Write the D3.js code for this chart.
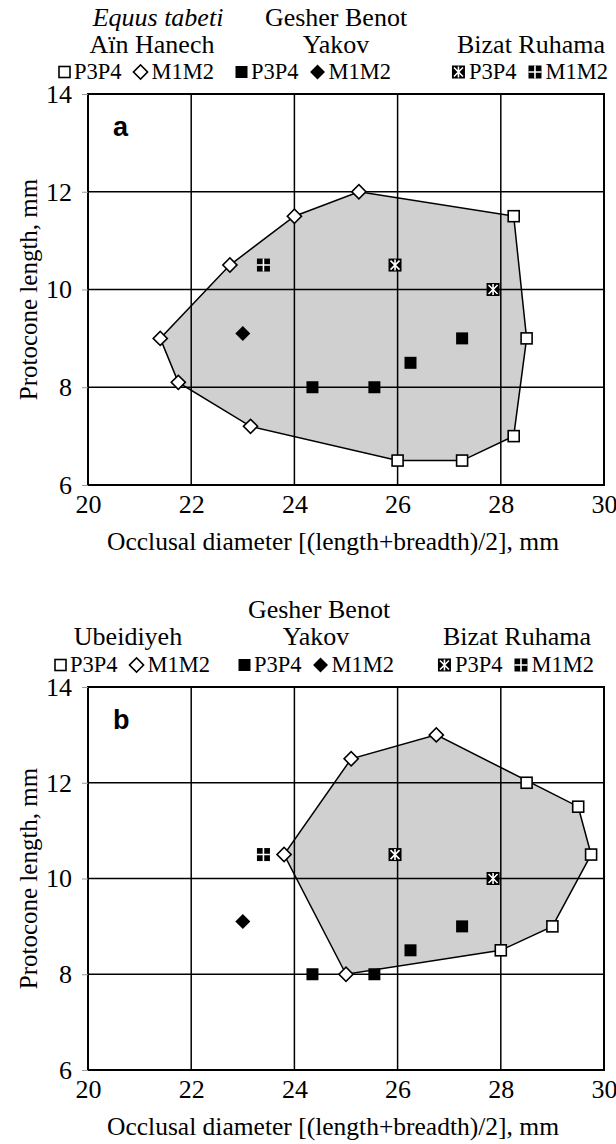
<!DOCTYPE html>
<html><head><meta charset="utf-8">
<script src="https://cdn.jsdelivr.net/npm/d3@7"></script>
<style>body{margin:0;background:#fff}</style>
</head><body>
<svg id="c" width="616" height="1144"></svg>
<script>
// ---------- data ----------
const xTicks = [20, 22, 24, 26, 28, 30];
const yTicks = [6, 8, 10, 12, 14];

// Panel a: Equus tabeti, Aïn Hanech  [occlusal diameter, protocone length]
const ainHanechP3P4 = [[28.25, 11.5], [28.5, 9], [28.25, 7], [27.25, 6.5], [26, 6.5]];
const ainHanechM1M2 = [[25.25, 12], [24, 11.5], [22.75, 10.5], [21.4, 9], [21.75, 8.1], [23.15, 7.2]];

// Panel b: Ubeidiyeh
const ubeidiyehP3P4 = [[28.5, 12], [29.5, 11.5], [29.75, 10.5], [29, 9], [28, 8.5]];
const ubeidiyehM1M2 = [[23.8, 10.5], [25.1, 12.5], [26.75, 13], [25, 8]];

// Gesher Benot Yakov (both panels)
const gbyP3P4 = [[24.35, 8], [25.55, 8], [26.25, 8.5], [27.25, 9]];
const gbyM1M2 = [[23, 9.1]];

// Bizat Ruhama (both panels)
const brP3P4 = [[25.95, 10.5], [27.85, 10]];
const brM1M2 = [[23.4, 10.5]];

const seriesLabels = ["P3P4", "M1M2"];

// ---------- drawing ----------
const serif = "'Liberation Serif','Times New Roman',serif";
const svg = d3.select('#c');

function marker(g, type, x, y) {
  const m = g.append('g').attr('transform', `translate(${x},${y})`);
  if (type === 'openSquare') {
    m.append('rect').attr('x', -5.5).attr('y', -5.5).attr('width', 11).attr('height', 11)
      .attr('fill', '#fff').attr('stroke', '#000').attr('stroke-width', 1.6);
  } else if (type === 'openDiamond') {
    m.append('rect').attr('x', -5).attr('y', -5).attr('width', 10).attr('height', 10)
      .attr('transform', 'rotate(45)')
      .attr('fill', '#fff').attr('stroke', '#000').attr('stroke-width', 1.6);
  } else if (type === 'filledSquare') {
    m.append('rect').attr('x', -6).attr('y', -6).attr('width', 12).attr('height', 12).attr('fill', '#000');
  } else if (type === 'filledDiamond') {
    m.append('rect').attr('x', -5.3).attr('y', -5.3).attr('width', 10.6).attr('height', 10.6)
      .attr('transform', 'rotate(45)').attr('fill', '#000');
  } else if (type === 'brStar') {
    m.append('rect').attr('x', -6.5).attr('y', -6.5).attr('width', 13).attr('height', 13).attr('fill', '#000');
    const p = 'M-4.5,-4.5L4.5,4.5M4.5,-4.5L-4.5,4.5M0,-5.5L0,5.5';
    m.append('path').attr('d', p).attr('stroke', '#fff').attr('stroke-width', 1.6);
  } else if (type === 'brCross') {
    m.append('rect').attr('x', -6.5).attr('y', -6.5).attr('width', 13).attr('height', 13).attr('fill', '#000');
    m.append('path').attr('d', 'M0,-6.5L0,6.5M-6.5,0L6.5,0').attr('stroke', '#fff').attr('stroke-width', 1.6);
  }
}

function symW(tp) { return tp.startsWith('br') ? 13 : (tp.endsWith('Diamond') ? 14 : 11); }

function panel(cfg) {
  const left = 88, right = 604;
  const x = d3.scaleLinear().domain([20, 30]).range([left, right]);
  const y = d3.scaleLinear().domain([6, 14]).range([cfg.bottom, cfg.top]);
  const g = svg.append('g');

  // hull polygon
  const pts = cfg.hullP3P4.concat(cfg.hullM1M2).map(d => [x(d[0]), y(d[1])]);
  const hull = d3.polygonHull(pts);
  g.append('path').attr('d', 'M' + hull.join('L') + 'Z').attr('fill', '#d0d0d0');

  // grid
  g.selectAll('.vx').data(xTicks).join('line')
    .attr('x1', d => x(d)).attr('x2', d => x(d)).attr('y1', cfg.top).attr('y2', cfg.bottom)
    .attr('stroke', '#000').attr('stroke-width', 1.5);
  g.selectAll('.hy').data(yTicks).join('line')
    .attr('x1', left).attr('x2', right).attr('y1', d => y(d)).attr('y2', d => y(d))
    .attr('stroke', '#000').attr('stroke-width', 1.5);
  g.append('rect').attr('x', left).attr('y', cfg.top).attr('width', right - left).attr('height', cfg.bottom - cfg.top)
    .attr('fill', 'none').attr('stroke', '#000').attr('stroke-width', 2);

  // y axis ticks + labels
  const ya = d3.axisLeft(y).tickValues(yTicks).tickSize(6).tickPadding(10).tickFormat(d3.format('d'));
  const yg = g.append('g').attr('transform', `translate(${left},0)`).call(ya);
  yg.select('.domain').remove();
  yg.selectAll('line').attr('stroke', '#999');
  yg.selectAll('text').attr('font-family', serif).attr('font-size', 26).attr('fill', '#000');

  // x axis labels
  const xa = d3.axisBottom(x).tickValues(xTicks).tickSize(0).tickPadding(10).tickFormat(d3.format('d'));
  const xg = g.append('g').attr('transform', `translate(0,${cfg.bottom})`).call(xa);
  xg.select('.domain').remove();
  xg.selectAll('text').attr('font-family', serif).attr('font-size', 26).attr('fill', '#000');

  // titles
  g.append('text').attr('x', 333).attr('y', cfg.bottom + 65).attr('text-anchor', 'middle')
    .attr('font-family', serif).attr('font-size', 25.5).text('Occlusal diameter [(length+breadth)/2], mm');
  g.append('text').attr('transform', `translate(28,${(cfg.top + cfg.bottom) / 2}) rotate(-90)`)
    .attr('text-anchor', 'middle').attr('dominant-baseline', 'central')
    .attr('font-family', serif).attr('font-size', 25).text('Protocone length, mm');

  // panel letter
  g.append('text').attr('x', 113).attr('y', cfg.top + 42)
    .attr('font-family', "'Liberation Sans',Arial,sans-serif").attr('font-weight', 'bold').attr('font-size', 27)
    .text(cfg.letter);

  // hull outline
  g.append('path').attr('d', 'M' + hull.join('L') + 'Z').attr('fill', 'none').attr('stroke', '#000').attr('stroke-width', 1.5);

  // markers
  const mk = g.append('g');
  cfg.hullP3P4.forEach(d => marker(mk, 'openSquare', x(d[0]), y(d[1])));
  cfg.hullM1M2.forEach(d => marker(mk, 'openDiamond', x(d[0]), y(d[1])));
  gbyP3P4.forEach(d => marker(mk, 'filledSquare', x(d[0]), y(d[1])));
  gbyM1M2.forEach(d => marker(mk, 'filledDiamond', x(d[0]), y(d[1])));
  brP3P4.forEach(d => marker(mk, 'brStar', x(d[0]), y(d[1])));
  brM1M2.forEach(d => marker(mk, 'brCross', x(d[0]), y(d[1])));

  // legend text
  cfg.legendText.forEach(t => {
    g.append('text').attr('x', t.x).attr('y', t.y).attr('text-anchor', 'middle')
      .attr('font-family', serif).attr('font-size', 26)
      .attr('font-style', t.italic ? 'italic' : 'normal').text(t.text);
  });
  // legend symbols
  const types = [['openSquare', 'openDiamond'], ['filledSquare', 'filledDiamond'], ['brStar', 'brCross']];
  cfg.legendStarts.forEach((sx, i) => {
    const grp = g.append('g');
    let cx = 0;
    types[i].forEach((tp, j) => {
      const w = symW(tp);
      marker(grp, tp, cx + w / 2, cfg.legendY - 7);
      cx += w + 4;
      const tx = grp.append('text').attr('x', cx).attr('y', cfg.legendY)
        .attr('font-family', serif).attr('font-size', 22.5).text(seriesLabels[j]);
      cx += tx.node().getComputedTextLength() + (j === 0 ? 12 : 0);
    });
    const start = sx === null ? cfg.legendEnd - cx : sx;
    grp.attr('transform', `translate(${start},0)`);
  });
}

panel({
  top: 94, bottom: 485, letter: 'a',
  hullP3P4: ainHanechP3P4, hullM1M2: ainHanechM1M2,
  legendText: [
    {text: 'Equus tabeti', italic: true, x: 158, y: 26},
    {text: 'Gesher Benot', x: 336, y: 26},
    {text: 'Aïn Hanech', x: 152, y: 53},
    {text: 'Yakov', x: 336, y: 53},
    {text: 'Bizat Ruhama', x: 531, y: 53}
  ],
  legendStarts: [59, 236, null], legendEnd: 608, legendY: 79
});

panel({
  top: 687, bottom: 1070, letter: 'b',
  hullP3P4: ubeidiyehP3P4, hullM1M2: ubeidiyehM1M2,
  legendText: [
    {text: 'Gesher Benot', x: 319, y: 618},
    {text: 'Ubeidiyeh', x: 128, y: 645},
    {text: 'Yakov', x: 316, y: 645},
    {text: 'Bizat Ruhama', x: 517, y: 645}
  ],
  legendStarts: [55, 239, null], legendEnd: 594, legendY: 672
});
</script>
</body></html>
